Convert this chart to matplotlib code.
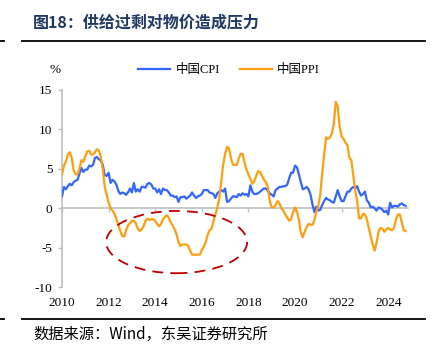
import numpy as np
import matplotlib
matplotlib.use("Agg")
import matplotlib.pyplot as plt
from matplotlib.patches import Ellipse
from matplotlib.lines import Line2D
import matplotlib.transforms as mtransforms

plt.rcParams['font.family'] = ['Liberation Serif', 'Noto Sans CJK SC', 'DejaVu Sans']

cpi = [
    1.5, 2.7, 2.4, 2.8, 3.1, 2.9, 3.3, 3.5, 3.6, 4.4, 5.1, 4.6,
    4.9, 4.9, 5.4, 5.3, 5.5, 6.4, 6.5, 6.2, 6.1, 5.5, 4.2, 4.1,
    4.5, 3.2, 3.6, 3.4, 3.0, 2.2, 1.8, 2.0, 1.9, 1.7, 2.0, 2.5,
    2.0, 3.2, 2.1, 2.4, 2.1, 2.7, 2.7, 2.6, 3.1, 3.2, 3.0, 2.5,
    2.5, 2.0, 2.4, 1.8, 2.5, 2.3, 2.3, 2.0, 1.6, 1.6, 1.4, 1.5,
    0.8, 1.4, 1.4, 1.5, 1.2, 1.4, 1.6, 2.0, 1.6, 1.3, 1.5, 1.6,
    1.8, 2.3, 2.3, 2.3, 2.0, 1.9, 1.8, 1.3, 1.9, 2.1, 2.3, 2.1,
    2.5, 0.8, 0.9, 1.2, 1.5, 1.5, 1.4, 1.8, 1.6, 1.9, 1.7, 1.8,
    1.5, 2.9, 2.1, 1.8, 1.8, 1.9, 2.1, 2.3, 2.5, 2.5, 2.2, 1.9,
    1.7, 1.5, 2.3, 2.5, 2.7, 2.7, 2.8, 2.8, 3.0, 3.8, 4.5, 4.5,
    5.4, 5.2, 4.3, 3.3, 2.4, 2.5, 2.7, 2.4, 1.7, 0.5, -0.5, 0.2,
    -0.3, -0.2, 0.4, 0.9, 1.3, 1.1, 1.0, 0.8, 0.7, 1.5, 2.3, 1.5,
    0.9, 0.9, 1.5, 2.1, 2.1, 2.5, 2.7, 2.5, 2.8, 2.1, 1.6, 1.8,
    2.1, 1.0, 0.7, 0.1, 0.2, 0.0, -0.3, 0.1, 0.0, -0.2, -0.5, -0.3,
    -0.8, 0.7, 0.1, 0.3, 0.3, 0.2, 0.5, 0.6, 0.4, 0.3,
]
ppi = [
    4.3, 5.4, 5.9, 6.8, 7.1, 6.4, 4.8, 4.3, 4.3, 5.0, 6.1, 5.9,
    6.6, 7.2, 7.3, 6.8, 6.8, 7.1, 7.5, 7.3, 6.5, 5.0, 2.7, 1.7,
    0.7, 0.0, -0.3, -0.7, -1.4, -2.1, -2.9, -3.5, -3.6, -2.8, -2.2, -1.9,
    -1.6, -1.6, -1.9, -2.6, -2.9, -2.7, -2.3, -1.6, -1.3, -1.5, -1.4, -1.4,
    -1.6, -2.0, -2.3, -2.0, -1.4, -1.1, -0.9, -1.2, -1.8, -2.2, -2.7, -3.3,
    -4.3, -4.8, -4.6, -4.6, -4.6, -4.8, -5.4, -5.9, -5.9, -5.9, -5.9, -5.9,
    -5.3, -4.9, -4.3, -3.4, -2.8, -2.6, -1.7, -0.8, 0.1, 1.2, 3.3, 5.5,
    6.9, 7.8, 7.6, 6.4, 5.5, 5.5, 5.5, 6.3, 6.9, 6.9, 5.8, 4.9,
    4.3, 3.7, 3.1, 3.4, 4.1, 4.7, 4.6, 4.1, 3.6, 3.3, 2.7, 0.9,
    0.1, 0.1, 0.4, 0.9, 0.6, 0.0, -0.3, -0.8, -1.2, -1.6, -1.4, -0.5,
    0.1, -0.4, -1.5, -3.1, -3.7, -3.0, -2.4, -2.0, -2.1, -2.1, -1.5, -0.4,
    0.3, 1.7, 4.4, 6.8, 9.0, 8.8, 9.0, 9.5, 10.7, 13.5, 12.9, 10.3,
    9.1, 8.8, 8.3, 8.0, 6.4, 6.1, 4.2, 2.3, 0.9, -1.3, -1.3, -0.7,
    -0.8, -1.4, -2.5, -3.6, -4.6, -5.4, -4.4, -3.0, -2.5, -2.6, -3.0, -2.7,
    -2.5, -2.7, -2.8, -2.5, -1.4, -0.8, -0.8, -1.8, -2.8, -2.9,
]
start_year = 2010
x_ticks = [2010, 2012, 2014, 2016, 2018, 2020, 2022, 2024]
x_labels = ['2010', '2012', '2014', '2016', '2018', '2020', '2022', '2024']
y_ticks = [-10, -5, 0, 5, 10, 15]
y_labels = ['-10', '-5', '0', '5', '10', '15']
series_names = ['中国CPI', '中国PPI']
title = '图18：供给过剩对物价造成压力'
source = '数据来源：Wind，东吴证券研究所'

t = start_year + np.arange(len(cpi)) / 12.0

W, H = 435, 355
fig = plt.figure(figsize=(W / 100, H / 100), dpi=100)
ax = fig.add_axes([62 / W, 1 - 287 / H, (408 - 62) / W, (287 - 90) / H])

blue = '#3366FF'
orange = '#FF9E0F'
ax.plot(t, cpi, color=blue, lw=1.6, zorder=3)
ax.plot(t, ppi, color=orange, lw=1.6, zorder=4)

ax.set_xlim(2010, 2024.85)
ax.set_ylim(-10, 15)

for s in ['top', 'right']:
    ax.spines[s].set_visible(False)
ax.spines['left'].set_color('#BFBFBF')
ax.spines['left'].set_linewidth(1.2)
ax.spines['bottom'].set_position(('data', 0))
ax.spines['bottom'].set_color('#BFBFBF')
ax.spines['bottom'].set_linewidth(1.2)
ax.spines['bottom'].set_zorder(2)

ax.set_yticks(y_ticks)
ax.set_yticklabels(y_labels, fontsize=9.5)
ax.set_xticks(x_ticks)
ax.tick_params(axis='x', labelbottom=False, direction='out', length=3, color='#BFBFBF', width=1)
ax.tick_params(axis='y', direction='out', length=3, color='#BFBFBF', width=1, pad=4)

trans = mtransforms.blended_transform_factory(ax.transData, ax.transAxes)
for xt, lab in zip(x_ticks, x_labels):
    ax.text(xt, -0.05, lab, transform=trans, ha='center', va='top', fontsize=9.5)

ell = Ellipse((2014.92, -4.3), 6.05, 7.9, fill=False, edgecolor='#C00000',
              lw=1.3, linestyle=(0, (6, 4)), zorder=5)
ax.add_patch(ell)

# percent label
fig.text(55 / W, 1 - 70 / H, '%', ha='center', va='center', fontsize=9.5)

# legend
handles = [Line2D([0], [0], color=blue, lw=1.6), Line2D([0], [0], color=orange, lw=1.6)]
leg = fig.legend(handles, series_names, loc='center', bbox_to_anchor=(229 / W, 1 - 70 / H),
                 ncol=2, frameon=False, handlelength=2.6, handletextpad=0.4,
                 columnspacing=1.6, prop={'family': ['Liberation Serif', 'Noto Sans CJK SC'], 'size': 9})

# title
fig.text(33 / W, 1 - 23 / H, title, ha='left', va='center', fontsize=11.5, fontweight='bold',
         color='#1F3864', family=['Noto Sans CJK SC', 'DejaVu Sans'])
# lines
fig.add_artist(Line2D([22 / W, 425 / W], [1 - 40.5 / H] * 2, color='black', lw=1.3))
fig.add_artist(Line2D([0, 4 / W], [1 - 40.5 / H] * 2, color='black', lw=1.3))
fig.add_artist(Line2D([22 / W, 425 / W], [1 - 318.5 / H] * 2, color='black', lw=1.3))
fig.add_artist(Line2D([0, 4 / W], [1 - 318.5 / H] * 2, color='black', lw=1.3))

fig.text(33 / W, 1 - 334 / H, source, ha='left', va='center', fontsize=11,
         family=['Noto Sans CJK SC', 'DejaVu Sans'])

fig.savefig('out.png', dpi=100)
